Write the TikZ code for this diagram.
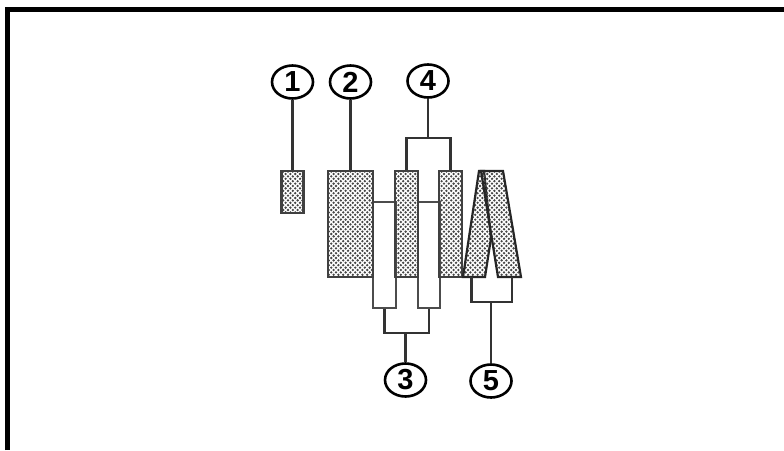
\documentclass[tikz,border=0pt]{standalone}
\usepackage{fontspec}
\setmainfont{Liberation Sans}
\usetikzlibrary{shapes,patterns,positioning,calc}

\pgfdeclarepatternformonly{stipple}{\pgfqpoint{-1.5pt}{-1.5pt}}{\pgfqpoint{4pt}{4pt}}{\pgfqpoint{4.8pt}{4.8pt}}{
    \pgfpathcircle{\pgfqpoint{0pt}{0pt}}{1.3pt}
    \pgfpathcircle{\pgfqpoint{2.4pt}{2.4pt}}{1.3pt}
    \pgfusepath{fill}
}

\begin{document}
\begin{tikzpicture}[
    x=1pt, y=-1pt,
    callout/.style = {ellipse, draw, line width=2.6pt, minimum width=41pt, minimum height=33pt, inner sep=0pt, fill=white, font=\bfseries\fontsize{29}{29}\selectfont},
    plate/.style = {rectangle, draw=black!75, line width=2.4pt, inner sep=0pt, pattern=stipple, pattern color=black!72},
    sleeve/.style = {rectangle, draw=black!70, line width=1.5pt, inner sep=0pt, fill=white},
    wedge/.style = {draw=black!85, line width=2.2pt, line join=miter, pattern=stipple, pattern color=black!72},
    wire/.style = {draw=black!80, line width=2.2pt}
]
    \useasboundingbox (0,0) rectangle (784,450);
    % frame
    \draw[line width=5pt] (7.5,450) -- (7.5,9.5) -- (784,9.5);

    \node[sleeve, minimum width=23pt, minimum height=106pt] (sleeveA) at (384.5,255) {};
    \node[sleeve, minimum width=22pt, minimum height=106pt] (sleeveB) at (429,255) {};

    \node[plate, minimum width=22pt, minimum height=42pt] (plateA) at (292.5,192) {};
    \node[plate, minimum width=45pt, minimum height=106pt] (plateB) at (350.5,224) {};
    \node[plate, minimum width=23pt, minimum height=106pt] (plateC) at (406.5,224) {};
    \node[plate, minimum width=23pt, minimum height=106pt] (plateD) at (450.5,224) {};

    % wedges
    \filldraw[wedge] (463,277) -- (479,171) -- (484,171) -- (491,238) -- (485,277) -- cycle;
    \filldraw[wedge] (481,171) -- (503,171) -- (521,277) -- (498,277) -- cycle;
    \coordinate (footL) at (471.5,277);
    \coordinate (footR) at (512,277);

    \node[callout] (numA) at (292.5,82) {1};
    \node[callout] (numB) at (350.5,82) {2};
    \node[callout] (numC) at (405.5,380) {3};
    \node[callout] (numD) at (428,81) {4};
    \node[callout] (numE) at (491,381) {5};

    \coordinate (topD) at (428,138);
    \coordinate (botC) at (405.5,333);
    \coordinate (botE) at (491,302);

    \draw[wire] (numA) -- (plateA);
    \draw[wire] (numB) -- (plateB);
    \draw[wire] (numD) -- (topD);
    \draw[wire] (plateC.north) |- (topD) -| (plateD.north);
    \draw[wire] (sleeveA.south) |- (botC) -| (sleeveB.south);
    \draw[wire] (botC) -- (numC);
    \draw[wire] (footL) |- (botE) -| (footR);
    \draw[wire] (botE) -- (numE);
\end{tikzpicture}
\end{document}
